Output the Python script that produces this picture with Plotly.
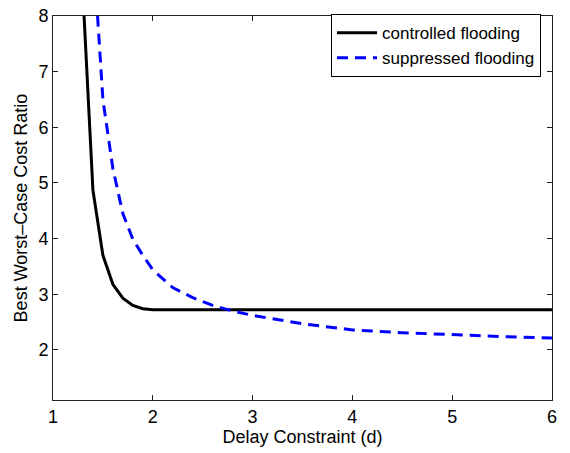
import plotly.graph_objects as go

# controlled flooding (black solid)
ctrl_x = [1.3, 1.4, 1.5, 1.6, 1.7, 1.8, 1.9, 2.0, 2.5, 3.0, 3.5, 4.0, 4.5, 5.0, 5.5, 6.0]
ctrl_y = [8.4, 4.87, 3.70, 3.18, 2.93, 2.80, 2.74, 2.72, 2.72, 2.72, 2.72, 2.72, 2.72, 2.72, 2.72, 2.72]

# suppressed flooding (blue dashed)
supp_x = [1.4, 1.45, 1.5, 1.6, 1.7, 1.8, 1.9, 2.0, 2.2, 2.4, 2.6, 2.8, 3.0, 3.5, 4.0, 4.5, 5.0, 5.5, 6.0]
supp_y = [9.3, 7.8, 6.5, 5.26, 4.45, 3.99, 3.70, 3.44, 3.12, 2.94, 2.80, 2.70, 2.62, 2.47, 2.36, 2.31, 2.27, 2.24, 2.215]

x_ticks = [1, 2, 3, 4, 5, 6]
y_ticks = [2, 3, 4, 5, 6, 7, 8]

FONT = "Liberation Sans, Arial, Helvetica, sans-serif"
FS = 18

fig = go.Figure()
fig.add_trace(go.Scatter(x=ctrl_x, y=ctrl_y, mode="lines", name="controlled flooding",
                         line=dict(color="black", width=3)))
fig.add_trace(go.Scatter(x=supp_x, y=supp_y, mode="lines", name="suppressed flooding",
                         line=dict(color="#0000ff", width=3, dash="11px,7px")))

axis_common = dict(showgrid=False, zeroline=False, showline=True, linecolor="#222222",
                   linewidth=1, mirror="allticks", ticks="inside", ticklen=5,
                   tickcolor="#222222", tickfont=dict(size=FS, color="black"),
                   ticklabeloverflow="allow")

fig.update_layout(
    width=570, height=453,
    margin=dict(l=53, r=18, t=6, b=53),
    paper_bgcolor="white", plot_bgcolor="white",
    font=dict(family=FONT, size=FS, color="black"),
    xaxis=dict(range=[1, 6.0005], tickvals=x_ticks,
               title=dict(text="Delay Constraint (d)", font=dict(size=FS), standoff=4),
               **axis_common),
    yaxis=dict(range=[1.1, 8.001], tickvals=y_ticks,
               title=dict(text="Best Worst–Case Cost Ratio", font=dict(size=FS), standoff=6),
               **axis_common),
    legend=dict(x=0.978, y=1.005, xanchor="right", yanchor="top",
                bgcolor="white", bordercolor="black", borderwidth=1,
                font=dict(size=17), tracegroupgap=0, itemwidth=40),
    showlegend=True,
)

fig.write_html("out.html", config={"displayModeBar": False},
               post_script="document.body.style.margin='0px';")
